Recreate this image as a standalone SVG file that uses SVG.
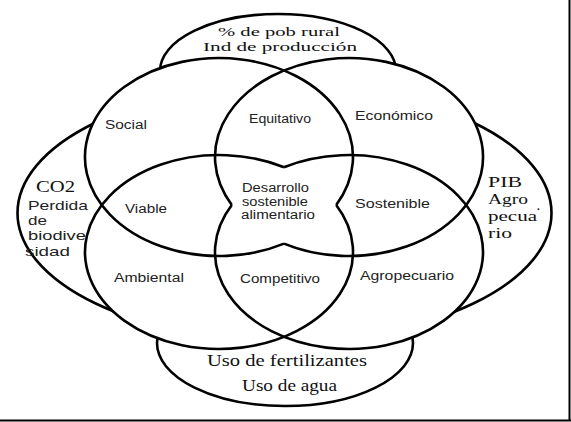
<svg xmlns="http://www.w3.org/2000/svg" width="571" height="422" viewBox="0 0 571 422">
<style>
  .bg { fill: #fff; stroke: #000; stroke-width: 2.6; }
  .cover { fill: #fff; stroke: none; }
  .ring { fill: none; stroke: #000; stroke-width: 2.6; }
  .frame { stroke: #000; stroke-width: 2; fill: none; }
  .serif { font-family: "Liberation Serif", "Times New Roman", serif; fill: #111; }
  .sans { font-family: "Liberation Sans", Arial, sans-serif; fill: #222; font-size: 12.5px; }
  .sansL { font-family: "Liberation Sans", Arial, sans-serif; fill: #222; font-size: 13.5px; }
</style>
<defs>
  <ellipse id="e-social" cx="219" cy="157" rx="134" ry="99"/>
  <ellipse id="e-economico" cx="349" cy="157" rx="134" ry="99"/>
  <ellipse id="e-ambiental" cx="219" cy="252" rx="134" ry="97"/>
  <ellipse id="e-agro" cx="349" cy="252" rx="134" ry="97"/>
</defs>
<rect width="571" height="422" fill="#fff"/>

<g id="indicadores-laterales">
  <ellipse class="bg" cx="284.5" cy="213" rx="267" ry="128"/>
</g>
<g id="indicadores-superiores">
  <ellipse class="bg" cx="278" cy="71" rx="118" ry="57"/>
  <text class="serif" font-size="13.5" x="218" y="35.5" textLength="122" lengthAdjust="spacingAndGlyphs">% de pob rural</text>
  <text class="serif" font-size="13.5" x="203" y="50.5" textLength="154" lengthAdjust="spacingAndGlyphs">Ind de producción</text>
</g>
<g id="indicadores-inferiores">
  <ellipse class="bg" cx="285" cy="343" rx="128" ry="63"/>
  <text class="serif" font-size="16" x="207" y="366" textLength="160" lengthAdjust="spacingAndGlyphs">Uso de fertilizantes</text>
  <text class="serif" font-size="16" x="242" y="391" textLength="95" lengthAdjust="spacingAndGlyphs">Uso de agua</text>
</g>
<g id="indicadores-ambientales">
  <text class="serif" font-size="16" x="36" y="192" textLength="39" lengthAdjust="spacingAndGlyphs">CO2</text>
  <text class="sansL" x="28" y="210" textLength="60" lengthAdjust="spacingAndGlyphs">Perdida</text>
  <text class="sansL" x="28" y="225" textLength="19" lengthAdjust="spacingAndGlyphs">de</text>
  <text class="sansL" x="28" y="240" textLength="64" lengthAdjust="spacingAndGlyphs">biodiver</text>
  <text class="sansL" x="25" y="256" textLength="45" lengthAdjust="spacingAndGlyphs">sidad</text>
</g>
<g id="indicadores-economicos">
  <text class="serif" font-size="15" x="488" y="187" textLength="34" lengthAdjust="spacingAndGlyphs">PIB</text>
  <text class="serif" font-size="15" x="488" y="204" textLength="40" lengthAdjust="spacingAndGlyphs">Agro</text>
  <text class="serif" font-size="15" x="536.5" y="209.5">.</text>
  <text class="serif" font-size="15" x="488" y="221" textLength="49" lengthAdjust="spacingAndGlyphs">pecua</text>
  <text class="serif" font-size="15" x="488" y="237.5" textLength="24" lengthAdjust="spacingAndGlyphs">rio</text>
</g>

<g id="venn-fondo">
  <use href="#e-social" class="cover"/>
  <use href="#e-economico" class="cover"/>
  <use href="#e-ambiental" class="cover"/>
  <use href="#e-agro" class="cover"/>
</g>
<g id="connectors"></g>

<g id="social">
  <path class="ring" d="M284,243.6 A134,99 0 1 1 336.2,205"/>
  <text class="sans" x="105" y="129" textLength="42" lengthAdjust="spacingAndGlyphs">Social</text>
</g>
<g id="economico">
  <path class="ring" d="M231.8,205 A134,99 0 1 1 284,243.6"/>
  <text class="sans" x="355" y="120" textLength="78" lengthAdjust="spacingAndGlyphs">Económico</text>
</g>
<g id="ambiental">
  <path class="ring" d="M336.2,205 A134,97 0 1 1 284,167.2"/>
  <text class="sans" x="114" y="282" textLength="70" lengthAdjust="spacingAndGlyphs">Ambiental</text>
</g>
<g id="agropecuario">
  <path class="ring" d="M284,167.2 A134,97 0 1 1 231.8,205"/>
  <text class="sans" x="360" y="280" textLength="94" lengthAdjust="spacingAndGlyphs">Agropecuario</text>
</g>
<g id="equitativo">
  <text class="sans" x="249" y="123" textLength="62" lengthAdjust="spacingAndGlyphs">Equitativo</text>
</g>
<g id="viable">
  <text class="sans" x="125" y="213" textLength="42" lengthAdjust="spacingAndGlyphs">Viable</text>
</g>
<g id="sostenible">
  <text class="sans" x="355" y="208" textLength="75" lengthAdjust="spacingAndGlyphs">Sostenible</text>
</g>
<g id="competitivo">
  <text class="sans" x="240" y="283" textLength="80" lengthAdjust="spacingAndGlyphs">Competitivo</text>
</g>
<g id="desarrollo">
  <text class="sans" x="242" y="192" textLength="67" lengthAdjust="spacingAndGlyphs">Desarrollo</text>
  <text class="sans" x="242" y="205.5" textLength="66" lengthAdjust="spacingAndGlyphs">sostenible</text>
  <text class="sans" x="241" y="219" textLength="74" lengthAdjust="spacingAndGlyphs">alimentario</text>
</g>

<g id="marco">
  <line class="frame" x1="0" y1="420.5" x2="571" y2="420.5"/>
  <line class="frame" x1="569.5" y1="0" x2="569.5" y2="421"/>
</g>
</svg>
